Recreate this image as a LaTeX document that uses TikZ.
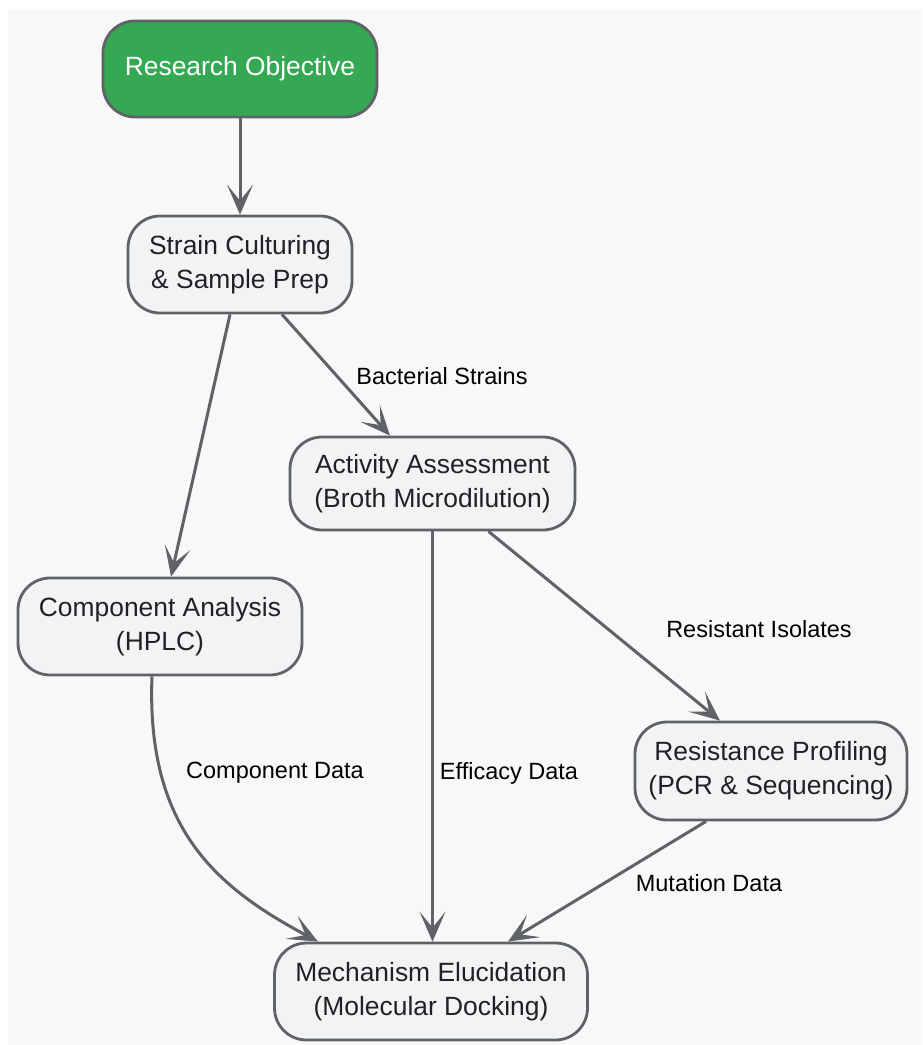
\documentclass[tikz,border=0pt]{standalone}
\usepackage{fontspec}
\setmainfont{Liberation Sans}
\usetikzlibrary{arrows.meta,calc}
\definecolor{bgc}{HTML}{F8F8F8}
\definecolor{edgec}{HTML}{5F6368}
\definecolor{boxc}{HTML}{F1F3F4}
\definecolor{greenc}{HTML}{34A853}
\definecolor{txtc}{HTML}{202124}
\tikzset{
  box/.style={draw=edgec, line width=2.8pt, fill=boxc, rounded corners=32pt,
    align=center, inner sep=0pt, text=txtc,
    font=\fontsize{26.4}{34}\selectfont},
  startbox/.style={box, fill=greenc, text=white},
  conn/.style={draw=edgec, line width=3pt,
    -{Stealth[length=30pt,width=26pt,inset=16pt]}},
  elabel/.style={text=black, inner sep=0pt, font=\fontsize{23.5}{28}\selectfont}
}
\begin{document}
\begin{tikzpicture}[x=1pt,y=-1pt]
\useasboundingbox (0,0) rectangle (922,1045);
\fill[white] (0,0) rectangle (922,1045);
\fill[bgc] (8,10) rectangle (922,1045);

\node[startbox, minimum width=274pt, minimum height=96pt] (RO) at (240,69) {Research Objective};
\node[box, minimum width=224pt, minimum height=97pt] (SC) at (240,264.5) {Strain Culturing\\\& Sample Prep};
\node[box, minimum width=285pt, minimum height=93pt] (AA) at (432.5,483.5) {Activity Assessment\\(Broth Microdilution)};
\node[box, minimum width=284pt, minimum height=97pt] (CA) at (160,626.5) {Component Analysis\\(HPLC)};
\node[box, minimum width=272pt, minimum height=98pt] (RP) at (771,771) {Resistance Profiling\\(PCR \& Sequencing)};
\node[box, minimum width=313pt, minimum height=97pt] (MD) at (431,991.5) {Mechanism Elucidation\\(Molecular Docking)};

\draw[conn] (RO.south) -- (SC.north);
\draw[conn] ($(SC.south)+(-10,0)$) -- ($(CA.north)+(11,0)$);
\draw[conn] ($(SC.south)+(42,0)$) -- ($(AA.north)+(-42.5,0)$);
\draw[conn] (AA.south) -- (AA.south |- MD.north);
\draw[conn] ($(AA.south)+(56,0)$) -- ($(RP.north)+(-51,0)$);
\draw[conn] ($(CA.south)+(-8,0)$) .. controls (146,830) and (218,888) .. ($(MD.north)+(-113,0)$);
\draw[conn] ($(RP.south)+(-65,0)$) -- ($(MD.north)+(77,0)$);

\node[elabel] (lbs) at (442,376) {Bacterial Strains};
\node[elabel] (lri) at (759,629) {Resistant Isolates};
\node[elabel] (lcd) at (275,773) {Component Data};
\node[elabel] (led) at (509,773) {Efficacy Data};
\node[elabel] (lmd) at (709,883) {Mutation Data};
\end{tikzpicture}
\end{document}
